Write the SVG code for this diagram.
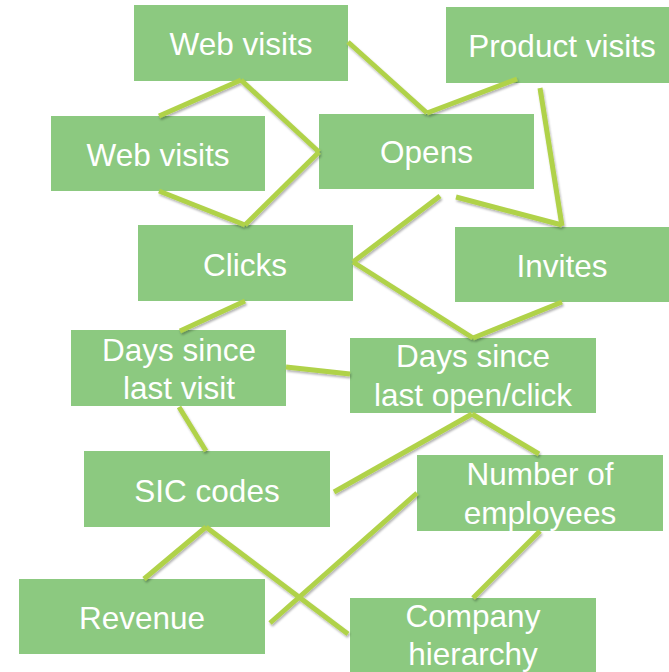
<svg xmlns="http://www.w3.org/2000/svg" width="669" height="672" viewBox="0 0 669 672">
  <defs>
    <filter id="shadow" x="-10%" y="-10%" width="120%" height="120%">
      <feDropShadow dx="1" dy="2" stdDeviation="1.2" flood-color="#000" flood-opacity="0.3"/>
    </filter>
  </defs>
  <style>
    .box { fill: #8cc980; }
    .lbl { fill: #ffffff; font-family: "Liberation Sans", Arial, sans-serif; font-size: 31.5px; text-anchor: middle; }
    .conn line { stroke: #b0d24a; stroke-width: 5; stroke-linecap: butt; }
  </style>
  <rect width="669" height="672" fill="#ffffff"/>

  <g id="web-visits-top">
    <rect class="box" x="134" y="5" width="214" height="76"/>
    <text class="lbl" x="241" y="55">Web visits</text>
  </g>
  <g id="product-visits">
    <rect class="box" x="446" y="7" width="232" height="76"/>
    <text class="lbl" x="562" y="57">Product visits</text>
  </g>
  <g id="web-visits-left">
    <rect class="box" x="51" y="116" width="214" height="75"/>
    <text class="lbl" x="158" y="166">Web visits</text>
  </g>
  <g id="opens">
    <rect class="box" x="319" y="114" width="215" height="75"/>
    <text class="lbl" x="426.5" y="163">Opens</text>
  </g>
  <g id="clicks">
    <rect class="box" x="138" y="225" width="215" height="76"/>
    <text class="lbl" x="245" y="276">Clicks</text>
  </g>
  <g id="invites">
    <rect class="box" x="455" y="227" width="214" height="75"/>
    <text class="lbl" x="562" y="277">Invites</text>
  </g>
  <g id="days-since-last-visit">
    <rect class="box" x="71" y="330" width="215" height="76"/>
    <text class="lbl" x="179" y="361">Days since</text>
    <text class="lbl" x="179" y="399">last visit</text>
  </g>
  <g id="days-since-last-open-click">
    <rect class="box" x="350" y="338" width="246" height="75"/>
    <text class="lbl" x="473" y="367">Days since</text>
    <text class="lbl" x="473" y="406">last open/click</text>
  </g>
  <g id="sic-codes">
    <rect class="box" x="84" y="451" width="246" height="76"/>
    <text class="lbl" x="207" y="502">SIC codes</text>
  </g>
  <g id="number-of-employees">
    <rect class="box" x="417" y="455" width="246" height="76"/>
    <text class="lbl" x="540" y="485">Number of</text>
    <text class="lbl" x="540" y="524">employees</text>
  </g>
  <g id="revenue">
    <rect class="box" x="19" y="579" width="246" height="75"/>
    <text class="lbl" x="142" y="629">Revenue</text>
  </g>
  <g id="company-hierarchy">
    <rect class="box" x="350" y="598" width="246" height="80"/>
    <text class="lbl" x="473" y="627">Company</text>
    <text class="lbl" x="473" y="665">hierarchy</text>
  </g>

  <g id="connectors" class="conn" filter="url(#shadow)">
    <line x1="241" y1="80" x2="159" y2="116"/>
    <line x1="241" y1="80" x2="319" y2="152"/>
    <line x1="319" y1="152" x2="245" y2="225"/>
    <line x1="159" y1="191" x2="245" y2="225"/>
    <line x1="348" y1="42" x2="427" y2="113"/>
    <line x1="427" y1="113" x2="517" y2="79"/>
    <line x1="540" y1="88" x2="562" y2="226"/>
    <line x1="440" y1="196" x2="353" y2="262"/>
    <line x1="456" y1="197" x2="562" y2="225"/>
    <line x1="353" y1="262" x2="473" y2="338"/>
    <line x1="562" y1="302" x2="473" y2="338"/>
    <line x1="245" y1="301" x2="180" y2="331"/>
    <line x1="286" y1="367" x2="350" y2="374"/>
    <line x1="179" y1="407" x2="206" y2="451"/>
    <line x1="472" y1="414" x2="334" y2="492"/>
    <line x1="472" y1="414" x2="539" y2="454"/>
    <line x1="206" y1="527" x2="144" y2="579"/>
    <line x1="206" y1="527" x2="348" y2="634"/>
    <line x1="270" y1="623" x2="417" y2="493"/>
    <line x1="540" y1="531" x2="473" y2="598"/>
  </g>
</svg>
